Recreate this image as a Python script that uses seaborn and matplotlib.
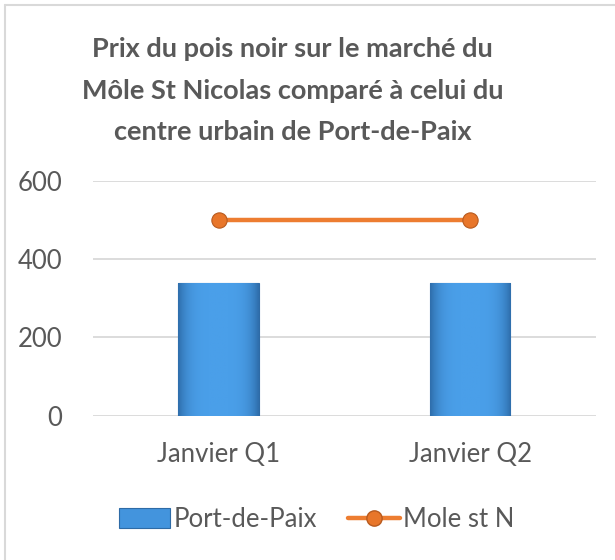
import matplotlib
matplotlib.use('Agg')
import matplotlib.pyplot as plt
import numpy as np
import seaborn as sns
from matplotlib.patches import Patch
from matplotlib.lines import Line2D

quarters = ['Janvier Q1', 'Janvier Q2']
port_de_paix = [340, 340]
mole_st_n = [500, 500]
title = 'Prix du pois noir sur le marché du\nMôle St Nicolas comparé à celui du\ncentre urbain de Port-de-Paix'

sns.set_style('white')
plt.rcParams['font.family'] = ['Lato', 'DejaVu Sans']
grey_text = '#595959'
blue = '#4394DD'
orange = '#ED7D31'

fig = plt.figure(figsize=(6.15, 5.6), dpi=100)
ax = fig.add_axes([0.151, 0.258, 0.818, 0.419])

sns.barplot(x=quarters, y=port_de_paix, width=0.32, color=blue,
            edgecolor='#2E6BA6', linewidth=0.8, saturation=1, ax=ax, zorder=2)

# soft gradient on the bars, darker at the sides
grad = np.linspace(-1, 1, 64)
grad = 1 - grad ** 4
grad = np.tile(grad, (32, 1))
for bar in ax.patches:
    x0, y0 = bar.get_x(), bar.get_y()
    w, h = bar.get_width(), bar.get_height()
    im = ax.imshow(grad, extent=(x0, x0 + w, y0, y0 + h), aspect='auto',
                   cmap=matplotlib.colors.LinearSegmentedColormap.from_list(
                       'b', ['#2F6FAD', '#4A9FE9']),
                   zorder=2.5, interpolation='bilinear')
    im.set_clip_path(bar)

sns.lineplot(x=quarters, y=mole_st_n, color=orange, linewidth=3.2,
             marker='o', markersize=11, markerfacecolor='#E8762A',
             markeredgecolor='#B85A1E', markeredgewidth=0.8, ax=ax, zorder=4)

ax.set_xlim(-0.5, 1.5)
ax.set_ylim(0, 600)
ax.set_yticks([0, 200, 400, 600])
ax.yaxis.grid(True, color='#D9D9D9', linewidth=1.3)
ax.set_axisbelow(True)
for s in ax.spines.values():
    s.set_visible(False)
ax.tick_params(axis='both', length=0, labelsize=18.5, labelcolor=grey_text)
ax.tick_params(axis='y', pad=22)
ax.tick_params(axis='x', pad=19)
ax.set_xlabel('')
ax.set_ylabel('')

fig.text(0.476, 0.934, title, ha='center', va='top', fontsize=19.5,
         fontweight='bold', color=grey_text, linespacing=1.88)

handles = [
    Patch(facecolor=blue, edgecolor='#2E6BA6', linewidth=0.8),
    Line2D([0], [0], color=orange, linewidth=3.2, marker='o', markersize=11,
           markerfacecolor='#E8762A', markeredgecolor='#B85A1E'),
]
fig.legend(handles, ['Port-de-Paix', 'Mole st N'], loc='center',
           bbox_to_anchor=(0.515, 0.072), ncol=2, frameon=False,
           fontsize=18.5, labelcolor=grey_text, handlelength=2.0,
           handleheight=0.8, handletextpad=0.15, columnspacing=1.2)

# chart border (left and top visible)
fig.add_artist(Line2D([5 / 615, 5 / 615], [0, 1 - 5 / 560], color='#D9D9D9',
                      linewidth=1.5, transform=fig.transFigure))
fig.add_artist(Line2D([5 / 615, 1], [1 - 5 / 560, 1 - 5 / 560], color='#D9D9D9',
                      linewidth=1.5, transform=fig.transFigure))

fig.savefig('out.png', dpi=100)
